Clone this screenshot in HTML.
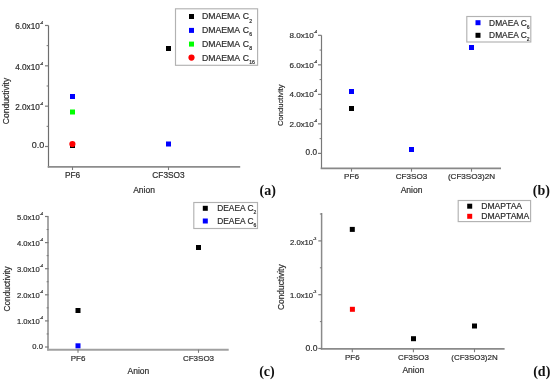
<!DOCTYPE html>
<html><head><meta charset="utf-8"><style>
html,body{margin:0;padding:0;background:#fff;}
svg{display:block;font-family:"Liberation Sans",sans-serif;filter:blur(0.3px);}
text{stroke:#333;stroke-width:0.2px;}
text.pl{stroke:none;}
</style></head><body>
<svg width="550" height="382" viewBox="0 0 550 382">
<rect width="550" height="382" fill="#fff"/>
<line x1="48.50" y1="25.50" x2="48.50" y2="167.50" stroke="#6e6e6e" stroke-width="1.2"/>
<line x1="47.70" y1="166.90" x2="240.20" y2="166.90" stroke="#8c8c8c" stroke-width="1.7"/>
<line x1="45.00" y1="25.48" x2="48.50" y2="25.48" stroke="#7a7a7a" stroke-width="1.2"/>
<text x="43.10" y="29.38" font-size="8.2" text-anchor="end" fill="#2a2a2a" >6.0x10<tspan font-size="3.7" dy="-5.0">-4</tspan></text>
<line x1="45.00" y1="65.82" x2="48.50" y2="65.82" stroke="#7a7a7a" stroke-width="1.2"/>
<text x="43.10" y="69.72" font-size="8.2" text-anchor="end" fill="#2a2a2a" >4.0x10<tspan font-size="3.7" dy="-5.0">-4</tspan></text>
<line x1="45.00" y1="106.16" x2="48.50" y2="106.16" stroke="#7a7a7a" stroke-width="1.2"/>
<text x="43.10" y="110.06" font-size="8.2" text-anchor="end" fill="#2a2a2a" >2.0x10<tspan font-size="3.7" dy="-5.0">-4</tspan></text>
<line x1="45.00" y1="146.50" x2="48.50" y2="146.50" stroke="#7a7a7a" stroke-width="1.2"/>
<text x="0" y="0" font-size="9.0" text-anchor="end" fill="#2a2a2a" transform="translate(44.2,148.0) scale(1,1.0)">0.0</text>
<line x1="46.60" y1="45.65" x2="48.50" y2="45.65" stroke="#7a7a7a" stroke-width="1.0"/>
<line x1="46.60" y1="85.99" x2="48.50" y2="85.99" stroke="#7a7a7a" stroke-width="1.0"/>
<line x1="46.60" y1="126.33" x2="48.50" y2="126.33" stroke="#7a7a7a" stroke-width="1.0"/>
<line x1="72.50" y1="166.85" x2="72.50" y2="170.05" stroke="#7a7a7a" stroke-width="1.1"/>
<text x="72.50" y="178.10" font-size="8.3" text-anchor="middle" fill="#2a2a2a" >PF6</text>
<line x1="168.50" y1="166.85" x2="168.50" y2="170.05" stroke="#7a7a7a" stroke-width="1.1"/>
<text x="168.50" y="178.10" font-size="8.3" text-anchor="middle" fill="#2a2a2a" >CF3SO3</text>
<text x="144.00" y="192.50" font-size="8.5" text-anchor="middle" fill="#2a2a2a" >Anion</text>
<text x="0" y="0" font-size="8.5" text-anchor="middle" fill="#2a2a2a" transform="translate(8.6,101) rotate(-90)">Conductivity</text>
<rect x="70.00" y="94.00" width="5" height="5" fill="#0000ff"/>
<rect x="70.00" y="109.50" width="5" height="5" fill="#00ff00"/>
<rect x="70.00" y="143.00" width="5" height="5" fill="#000"/>
<circle cx="72.4" cy="144" r="3.1" fill="#ff0000"/>
<rect x="166.00" y="46.00" width="5" height="5" fill="#000"/>
<rect x="166.00" y="141.50" width="5" height="5" fill="#0000ff"/>
<rect x="175.5" y="8.8" width="82.10" height="56.50" fill="#fff" stroke="#b2b2b2" stroke-width="1.15"/>
<rect x="189.00" y="14.00" width="5" height="5" fill="#000"/>
<text x="202" y="19.40" font-size="8.7" fill="#2a2a2a" word-spacing="0.8">DMAEMA C<tspan font-size="5.2" dy="3.1">2</tspan></text>
<rect x="189.00" y="27.90" width="5" height="5" fill="#0000ff"/>
<text x="202" y="33.30" font-size="8.7" fill="#2a2a2a" word-spacing="0.8">DMAEMA C<tspan font-size="5.2" dy="3.1">6</tspan></text>
<rect x="189.00" y="41.60" width="5" height="5" fill="#00ff00"/>
<text x="202" y="47.00" font-size="8.7" fill="#2a2a2a" word-spacing="0.8">DMAEMA C<tspan font-size="5.2" dy="3.1">8</tspan></text>
<circle cx="191.5" cy="57.6" r="3.1" fill="#ff0000"/>
<text x="202" y="60.50" font-size="8.7" fill="#2a2a2a" word-spacing="0.8">DMAEMA C<tspan font-size="5.2" dy="3.1">16</tspan></text>
<text class="pl" x="259.5" y="194.8" font-family="Liberation Serif" font-weight="bold" font-size="14" fill="#111">(a)</text>
<line x1="321.50" y1="35.30" x2="321.50" y2="169.00" stroke="#787878" stroke-width="1.2"/>
<line x1="320.70" y1="168.40" x2="501.00" y2="168.40" stroke="#888888" stroke-width="1.6"/>
<line x1="318.00" y1="35.32" x2="321.50" y2="35.32" stroke="#7a7a7a" stroke-width="1.2"/>
<text x="317.10" y="38.32" font-size="8.1" text-anchor="end" fill="#2a2a2a" >8.0x10<tspan font-size="3.7" dy="-5.0">-4</tspan></text>
<line x1="318.00" y1="64.84" x2="321.50" y2="64.84" stroke="#7a7a7a" stroke-width="1.2"/>
<text x="317.10" y="67.84" font-size="8.1" text-anchor="end" fill="#2a2a2a" >6.0x10<tspan font-size="3.7" dy="-5.0">-4</tspan></text>
<line x1="318.00" y1="94.36" x2="321.50" y2="94.36" stroke="#7a7a7a" stroke-width="1.2"/>
<text x="317.10" y="97.36" font-size="8.1" text-anchor="end" fill="#2a2a2a" >4.0x10<tspan font-size="3.7" dy="-5.0">-4</tspan></text>
<line x1="318.00" y1="123.88" x2="321.50" y2="123.88" stroke="#7a7a7a" stroke-width="1.2"/>
<text x="317.10" y="126.88" font-size="8.1" text-anchor="end" fill="#2a2a2a" >2.0x10<tspan font-size="3.7" dy="-5.0">-4</tspan></text>
<line x1="318.00" y1="153.40" x2="321.50" y2="153.40" stroke="#7a7a7a" stroke-width="1.2"/>
<text x="0" y="0" font-size="8.2" text-anchor="end" fill="#2a2a2a" transform="translate(317.0,155.1) scale(1,1.15)">0.0</text>
<line x1="319.60" y1="50.08" x2="321.50" y2="50.08" stroke="#7a7a7a" stroke-width="1.0"/>
<line x1="319.60" y1="79.60" x2="321.50" y2="79.60" stroke="#7a7a7a" stroke-width="1.0"/>
<line x1="319.60" y1="109.12" x2="321.50" y2="109.12" stroke="#7a7a7a" stroke-width="1.0"/>
<line x1="319.60" y1="138.64" x2="321.50" y2="138.64" stroke="#7a7a7a" stroke-width="1.0"/>
<line x1="351.50" y1="168.50" x2="351.50" y2="171.70" stroke="#7a7a7a" stroke-width="1.1"/>
<text x="351.50" y="179.20" font-size="8.1" text-anchor="middle" fill="#2a2a2a" >PF6</text>
<line x1="411.50" y1="168.50" x2="411.50" y2="171.70" stroke="#7a7a7a" stroke-width="1.1"/>
<text x="411.50" y="179.20" font-size="8.1" text-anchor="middle" fill="#2a2a2a" >CF3SO3</text>
<line x1="471.50" y1="168.50" x2="471.50" y2="171.70" stroke="#7a7a7a" stroke-width="1.1"/>
<text x="471.50" y="179.20" font-size="8.1" text-anchor="middle" fill="#2a2a2a" >(CF3SO3)2N</text>
<text x="411.50" y="192.50" font-size="8.5" text-anchor="middle" fill="#2a2a2a" >Anion</text>
<text x="0" y="0" font-size="7.6" text-anchor="middle" fill="#2a2a2a" transform="translate(283,105.2) rotate(-90)">Conductivity</text>
<rect x="349.00" y="89.00" width="5" height="5" fill="#0000ff"/>
<rect x="349.00" y="106.00" width="5" height="5" fill="#000"/>
<rect x="409.00" y="147.00" width="5" height="5" fill="#0000ff"/>
<rect x="469.00" y="45.00" width="5" height="5" fill="#0000ff"/>
<rect x="466.8" y="16.5" width="64.00" height="25.50" fill="#fff" stroke="#b2b2b2" stroke-width="1.15"/>
<rect x="475.50" y="20.20" width="5" height="5" fill="#0000ff"/>
<text x="489.1" y="25.60" font-size="8.4" fill="#2a2a2a">DMAEA C<tspan font-size="5.0" dy="3.1">6</tspan></text>
<rect x="475.50" y="32.80" width="5" height="5" fill="#000"/>
<text x="489.1" y="38.20" font-size="8.4" fill="#2a2a2a">DMAEA C<tspan font-size="5.0" dy="3.1">2</tspan></text>
<text class="pl" x="532.8" y="194.9" font-family="Liberation Serif" font-weight="bold" font-size="14" fill="#111">(b)</text>
<line x1="48.00" y1="216.50" x2="48.00" y2="350.40" stroke="#a8a8a8" stroke-width="2.0"/>
<line x1="47.20" y1="349.80" x2="228.70" y2="349.80" stroke="#a0a0a0" stroke-width="2.0"/>
<line x1="45.00" y1="216.50" x2="48.50" y2="216.50" stroke="#7a7a7a" stroke-width="1.2"/>
<text x="43.10" y="219.80" font-size="7.6" text-anchor="end" fill="#2a2a2a" >5.0x10<tspan font-size="3.7" dy="-5.0">-4</tspan></text>
<line x1="45.00" y1="242.60" x2="48.50" y2="242.60" stroke="#7a7a7a" stroke-width="1.2"/>
<text x="43.10" y="245.90" font-size="7.6" text-anchor="end" fill="#2a2a2a" >4.0x10<tspan font-size="3.7" dy="-5.0">-4</tspan></text>
<line x1="45.00" y1="268.70" x2="48.50" y2="268.70" stroke="#7a7a7a" stroke-width="1.2"/>
<text x="43.10" y="272.00" font-size="7.6" text-anchor="end" fill="#2a2a2a" >3.0x10<tspan font-size="3.7" dy="-5.0">-4</tspan></text>
<line x1="45.00" y1="294.80" x2="48.50" y2="294.80" stroke="#7a7a7a" stroke-width="1.2"/>
<text x="43.10" y="298.10" font-size="7.6" text-anchor="end" fill="#2a2a2a" >2.0x10<tspan font-size="3.7" dy="-5.0">-4</tspan></text>
<line x1="45.00" y1="320.90" x2="48.50" y2="320.90" stroke="#7a7a7a" stroke-width="1.2"/>
<text x="43.10" y="324.20" font-size="7.6" text-anchor="end" fill="#2a2a2a" >1.0x10<tspan font-size="3.7" dy="-5.0">-4</tspan></text>
<line x1="45.00" y1="347.00" x2="48.50" y2="347.00" stroke="#7a7a7a" stroke-width="1.2"/>
<text x="0" y="0" font-size="7.6" text-anchor="end" fill="#2a2a2a" transform="translate(42.9,348.6) scale(1,1.0)">0.0</text>
<line x1="46.60" y1="229.55" x2="48.50" y2="229.55" stroke="#7a7a7a" stroke-width="1.0"/>
<line x1="46.60" y1="255.65" x2="48.50" y2="255.65" stroke="#7a7a7a" stroke-width="1.0"/>
<line x1="46.60" y1="281.75" x2="48.50" y2="281.75" stroke="#7a7a7a" stroke-width="1.0"/>
<line x1="46.60" y1="307.85" x2="48.50" y2="307.85" stroke="#7a7a7a" stroke-width="1.0"/>
<line x1="46.60" y1="333.95" x2="48.50" y2="333.95" stroke="#7a7a7a" stroke-width="1.0"/>
<line x1="78.00" y1="349.60" x2="78.00" y2="352.80" stroke="#7a7a7a" stroke-width="1.1"/>
<text x="78.00" y="360.50" font-size="8.0" text-anchor="middle" fill="#2a2a2a" >PF6</text>
<line x1="198.50" y1="349.60" x2="198.50" y2="352.80" stroke="#7a7a7a" stroke-width="1.1"/>
<text x="198.50" y="360.50" font-size="8.0" text-anchor="middle" fill="#2a2a2a" >CF3SO3</text>
<text x="138.40" y="374.10" font-size="8.5" text-anchor="middle" fill="#2a2a2a" >Anion</text>
<text x="0" y="0" font-size="8.3" text-anchor="middle" fill="#2a2a2a" transform="translate(10.3,288.9) rotate(-90)">Conductivity</text>
<rect x="75.50" y="308.00" width="5" height="5" fill="#000"/>
<rect x="75.50" y="343.30" width="5" height="5" fill="#0000ff"/>
<rect x="196.00" y="245.00" width="5" height="5" fill="#000"/>
<rect x="193.8" y="202.5" width="63.70" height="26.00" fill="#fff" stroke="#b2b2b2" stroke-width="1.15"/>
<rect x="202.80" y="205.80" width="5" height="5" fill="#000"/>
<text x="217.2" y="211.20" font-size="8.4" fill="#2a2a2a">DEAEA C<tspan font-size="5.0" dy="3.1">2</tspan></text>
<rect x="202.80" y="218.50" width="5" height="5" fill="#0000ff"/>
<text x="217.2" y="223.90" font-size="8.4" fill="#2a2a2a">DEAEA C<tspan font-size="5.0" dy="3.1">6</tspan></text>
<text class="pl" x="259.2" y="375.7" font-family="Liberation Serif" font-weight="bold" font-size="14" fill="#111">(c)</text>
<line x1="321.60" y1="213.00" x2="321.60" y2="349.50" stroke="#8a8a8a" stroke-width="1.5"/>
<line x1="320.80" y1="348.90" x2="504.60" y2="348.90" stroke="#8a8a8a" stroke-width="1.6"/>
<line x1="318.30" y1="240.90" x2="321.80" y2="240.90" stroke="#7a7a7a" stroke-width="1.2"/>
<text x="316.40" y="244.50" font-size="7.7" text-anchor="end" fill="#2a2a2a" >2.0x10<tspan font-size="3.7" dy="-5.0">-3</tspan></text>
<line x1="318.30" y1="294.70" x2="321.80" y2="294.70" stroke="#7a7a7a" stroke-width="1.2"/>
<text x="316.40" y="298.30" font-size="7.7" text-anchor="end" fill="#2a2a2a" >1.0x10<tspan font-size="3.7" dy="-5.0">-3</tspan></text>
<line x1="318.30" y1="348.50" x2="321.80" y2="348.50" stroke="#7a7a7a" stroke-width="1.2"/>
<text x="0" y="0" font-size="8.6" text-anchor="end" fill="#2a2a2a" transform="translate(317.5,350.6) scale(1,1.0)">0.0</text>
<line x1="319.90" y1="214.00" x2="321.80" y2="214.00" stroke="#7a7a7a" stroke-width="1.0"/>
<line x1="319.90" y1="267.80" x2="321.80" y2="267.80" stroke="#7a7a7a" stroke-width="1.0"/>
<line x1="319.90" y1="321.60" x2="321.80" y2="321.60" stroke="#7a7a7a" stroke-width="1.0"/>
<line x1="352.30" y1="349.00" x2="352.30" y2="352.20" stroke="#7a7a7a" stroke-width="1.1"/>
<text x="352.30" y="359.60" font-size="7.95" text-anchor="middle" fill="#2a2a2a" >PF6</text>
<line x1="413.40" y1="349.00" x2="413.40" y2="352.20" stroke="#7a7a7a" stroke-width="1.1"/>
<text x="413.40" y="359.60" font-size="7.95" text-anchor="middle" fill="#2a2a2a" >CF3SO3</text>
<line x1="474.50" y1="349.00" x2="474.50" y2="352.20" stroke="#7a7a7a" stroke-width="1.1"/>
<text x="474.50" y="359.60" font-size="7.95" text-anchor="middle" fill="#2a2a2a" >(CF3SO3)2N</text>
<text x="413.30" y="373.30" font-size="8.5" text-anchor="middle" fill="#2a2a2a" >Anion</text>
<text x="0" y="0" font-size="8.4" text-anchor="middle" fill="#2a2a2a" transform="translate(284,287.2) rotate(-90)">Conductivity</text>
<rect x="349.80" y="226.90" width="5" height="5" fill="#000"/>
<rect x="349.90" y="306.80" width="5" height="5" fill="#ff0000"/>
<rect x="411.00" y="336.20" width="5" height="5" fill="#000"/>
<rect x="472.00" y="323.50" width="5" height="5" fill="#000"/>
<rect x="458.2" y="200.5" width="72.40" height="21.10" fill="#fff" stroke="#b2b2b2" stroke-width="1.15"/>
<rect x="467.20" y="203.70" width="5" height="5" fill="#000"/>
<text x="481.2" y="209.10" font-size="8.6" fill="#2a2a2a">DMAPTAA</text>
<rect x="467.20" y="213.80" width="5" height="5" fill="#ff0000"/>
<text x="481.2" y="219.20" font-size="8.6" fill="#2a2a2a">DMAPTAMA</text>
<text class="pl" x="533.2" y="376.1" font-family="Liberation Serif" font-weight="bold" font-size="14" fill="#111">(d)</text>
</svg>
</body></html>
